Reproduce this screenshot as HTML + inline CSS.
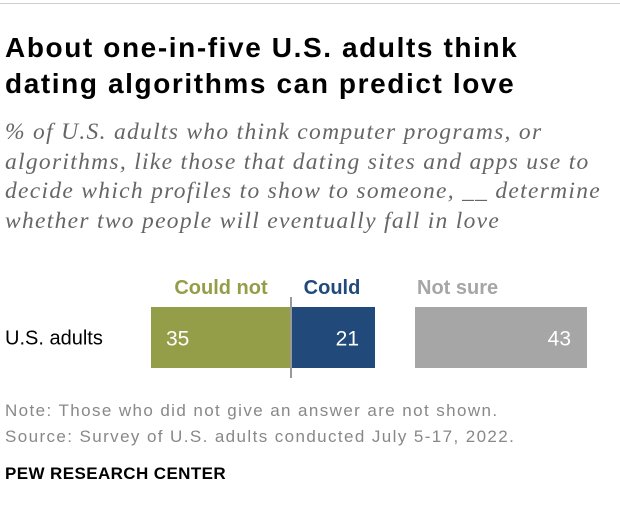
<!DOCTYPE html>
<html><head><meta charset="utf-8"><style>
body{margin:0;width:620px;height:524px;background:#fff;font-family:"Liberation Sans",sans-serif;position:relative;overflow:hidden}
.a{position:absolute}
</style></head><body>
<div class="a" style="left:0;top:3px;width:620px;height:1px;background:#cfcfcf"></div>
<div class="a" style="left:5px;top:30px;font-size:28px;letter-spacing:1.6px;font-weight:bold;line-height:36px;color:#000;white-space:nowrap">About one-in-five U.S. adults think<br>dating algorithms can predict love</div>
<div class="a" style="left:5px;top:118px;font-family:'Liberation Serif',serif;font-style:italic;font-size:23.5px;letter-spacing:1.3px;line-height:29.5px;color:#666;white-space:nowrap">% of U.S. adults who think computer programs, or<br>algorithms, like those that dating sites and apps use to<br>decide which profiles to show to someone, __ determine<br>whether two people will eventually fall in love</div>
<svg class="a" style="left:0;top:0" width="620" height="524">
<g id="g"></g>
</svg>
<div class="a" style="left:5px;top:398px;font-size:17px;letter-spacing:1.4px;line-height:26px;color:#888;white-space:nowrap">Note: Those who did not give an answer are not shown.<br>Source: Survey of U.S. adults conducted July 5-17, 2022.</div>
<div class="a" style="left:5px;top:464px;font-size:17px;letter-spacing:0.4px;font-weight:bold;color:#000">PEW RESEARCH CENTER</div>
<script>
const categories=["U.S. adults"];
const couldNot=[35];
const could=[21];
const notSure=[43];
const legendLabels=["Could not","Could","Not sure"];
const ns="http://www.w3.org/2000/svg",g=document.getElementById('g');
const zero=291,k=4,gap=40,y0=307,h=61;
const x=v=>v*k;
function el(t,a,txt){const e=document.createElementNS(ns,t);for(const n in a)e.setAttribute(n,a[n]);if(txt!==undefined)e.textContent=txt;g.appendChild(e);return e;}
categories.forEach((c,i)=>{
 const y=y0+i*(h+20);
 let e=el('text',{x:5,y:y+h/2+7,'font-size':20,fill:'#000'},c);
 
 
 e=el('rect',{x:zero-x(couldNot[i]),y:y,width:x(couldNot[i]),height:h,fill:'#949e48'});
 
 
 e=el('text',{x:zero-x(couldNot[i])+15,y:y+h/2+8,'font-size':21,fill:'#fff'},couldNot[i]);
 
 
 e=el('rect',{x:zero,y:y,width:x(could[i]),height:h,fill:'#214a7b'});
 
 
 e=el('text',{x:zero+x(could[i])-16,y:y+h/2+8,'font-size':21,fill:'#fff','text-anchor':'end'},could[i]);
 
 
 const nsx=zero+x(could[i])+gap;
 e=el('rect',{x:nsx,y:y,width:x(notSure[i]),height:h,fill:'#a6a6a6'});
 
 
 e=el('text',{x:nsx+x(notSure[i])-16,y:y+h/2+8,'font-size':21,fill:'#fff','text-anchor':'end'},notSure[i]);
 
 
});
let e=el('line',{x1:zero,x2:zero,y1:297,y2:378,stroke:'#999','stroke-width':2});


e=el('text',{x:zero-x(couldNot[0])/2,y:294,'font-size':20,'font-weight':'bold',fill:'#949e48','text-anchor':'middle'},legendLabels[0]);


e=el('text',{x:zero+x(could[0])/2-1,y:294,'font-size':20,'font-weight':'bold',fill:'#214a7b','text-anchor':'middle'},legendLabels[1]);


e=el('text',{x:417,y:294,'font-size':20,'font-weight':'bold',fill:'#a6a6a6'},legendLabels[2]);


</script>
</body></html>
